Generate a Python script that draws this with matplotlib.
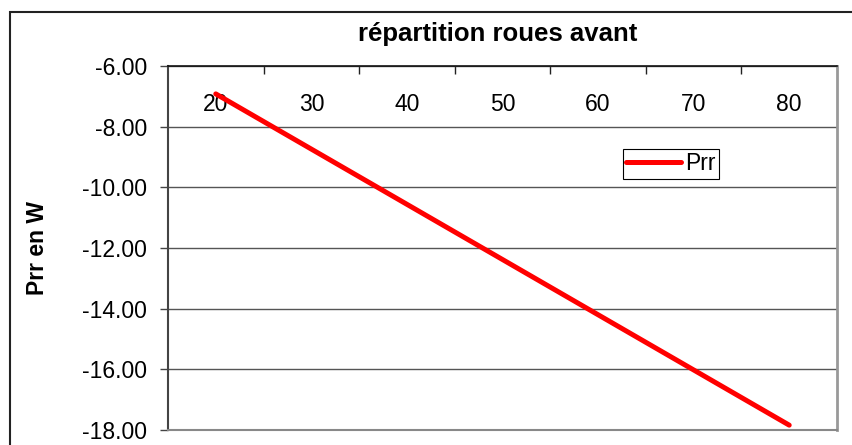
import matplotlib.pyplot as plt
import matplotlib.patches as patches
import numpy as np

# data
categories = ['20', '30', '40', '50', '60', '70', '80']
prr = [-6.92, -8.74, -10.56, -12.38, -14.20, -16.02, -17.84]
y_ticks = [-18, -16, -14, -12, -10, -8, -6]

title = 'répartition roues avant'
y_label = 'Prr en W'
series_name = 'Prr'


def main():
    plt.rcParams['font.family'] = ['Liberation Sans', 'DejaVu Sans']
    plt.rcParams['axes.unicode_minus'] = False

    fig = plt.figure(figsize=(8.52, 4.45), dpi=100)
    W, H = 852, 445
    ax = fig.add_axes([168 / W, 1 - 430 / H, (837 - 168) / W, (430 - 66) / H])

    x = np.arange(len(categories))
    ax.plot(x, prr, color='#ff0000', lw=3.6, solid_capstyle='round', label=series_name, zorder=3)

    ax.set_xlim(-0.5, len(categories) - 0.5)
    ax.set_ylim(-18, -6)

    # category axis crosses at the top (-6), labels hang below it
    ax.set_xticks(x)
    ax.set_xticklabels(categories)
    ax.set_xticks(x[:-1] + 0.5, minor=True)
    ax.tick_params(axis='x', which='major', top=True, bottom=False, labeltop=True,
                   labelbottom=False, length=0, pad=-36, labelsize=16.5)
    ax.tick_params(axis='x', which='minor', top=True, bottom=False, direction='in',
                   length=6, width=1, color='#222222')

    ax.set_yticks(y_ticks)
    ax.set_yticklabels([f'{v:.2f}' for v in y_ticks])
    ax.tick_params(axis='y', direction='out', length=6, width=1, color='#444444',
                   pad=9, labelsize=16.5)
    ax.yaxis.grid(True, color='#555555', lw=1)
    ax.set_axisbelow(True)

    ax.spines['top'].set_color('#111111')
    ax.spines['top'].set_linewidth(1.2)
    ax.spines['left'].set_color('#444444')
    ax.spines['left'].set_linewidth(1.5)
    ax.spines['bottom'].set_color('#888888')
    ax.spines['bottom'].set_linewidth(1.5)
    ax.spines['right'].set_color('#999999')
    ax.spines['right'].set_linewidth(2)

    leg = ax.legend(loc='upper left', bbox_to_anchor=((623 - 168) / 669, (430 - 149) / 364),
                    borderaxespad=0, fontsize=16.5, fancybox=False, framealpha=1,
                    edgecolor='black', handlelength=2.4, handletextpad=0.15,
                    borderpad=0.15)
    leg.get_frame().set_linewidth(0.8)

    fig.text(498 / W, 1 - 34 / H, title, ha='center', va='center',
             fontsize=18.5, fontweight='bold')
    fig.text(38 / W, 1 - 248 / H, y_label, ha='center', va='center', rotation=90,
             fontsize=16.5, fontweight='bold')

    # chart area border (right and bottom fall outside the picture)
    border = patches.Rectangle((10 / W, -0.5), 2, 1 - 12 / H + 0.5, transform=fig.transFigure,
                               fill=False, edgecolor='#222222', lw=1.5)
    fig.add_artist(border)

    fig.savefig('out.png', dpi=100)


if __name__ == "__main__":
    main()
